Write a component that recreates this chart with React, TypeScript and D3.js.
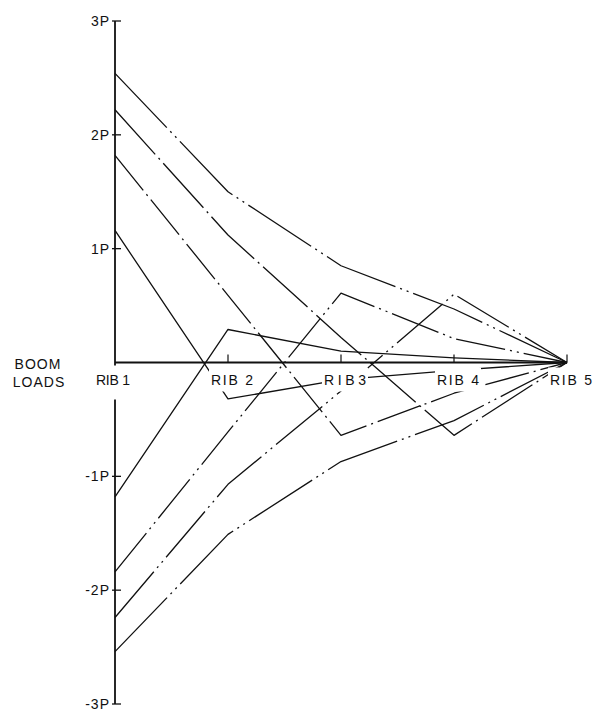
import React from "react";
import * as d3 from "d3";

const ribs = ["RIB 1", "RIB 2", "RIB 3", "RIB 4", "RIB 5"];
const ribLabels = ["RIB 1", "RIB 2", "RIB3", "RIB 4", "RIB 5"];
const yTickValues = [3, 2, 1, -1, -2, -3];
const yTickLabels = ["3P", "2P", "1P", "-1P", "-2P", "-3P"];

// boom loads (in units of P) at ribs 1..5
const seriesA = [2.54, 1.5, 0.85, 0.47, 0];
const seriesA2 = [-2.54, -1.51, -0.87, -0.51, 0];
const seriesB = [2.22, 1.12, 0.22, -0.64, 0];
const seriesB2 = [-2.24, -1.07, -0.25, 0.6, 0];
const seriesC = [1.82, 0.59, -0.64, -0.27, 0];
const seriesC2 = [-1.84, -0.61, 0.61, 0.21, 0];
const seriesD = [1.16, -0.32, -0.15, -0.07, 0];
const seriesD2 = [-1.18, 0.29, 0.1, 0.04, 0];

const W = 595;
const H = 716;

export default function App() {
  const x = d3.scalePoint<string>().domain(ribs).range([115, 567]).padding(0);
  const y = d3.scaleLinear().domain([-3, 3]).range([704, 21]);

  const line = d3
    .line<number>()
    .x((_, i) => x(ribs[i]) as number)
    .y((d) => y(d));

  const lines = [
    { data: seriesA, dash: "75 5 2 5 2 5" },
    { data: seriesA2, dash: "75 5 2 5 2 5" },
    { data: seriesB, dash: "60 5 2 5" },
    { data: seriesB2, dash: "60 5 2 5 2 5" },
    { data: seriesC, dash: "45 5 2 5" },
    { data: seriesC2, dash: "50 5 2 5 2 5" },
    { data: seriesD, dash: "none" },
    { data: seriesD2, dash: "none" },
  ];

  const font = "'Liberation Sans', Arial, sans-serif";
  const x0 = x(ribs[0]) as number;
  const xEnd = x(ribs[ribs.length - 1]) as number;
  const yZero = y(0);

  return (
    <svg
      width={W}
      height={H}
      viewBox={`0 0 ${W} ${H}`}
      style={{ position: "absolute", left: 0, top: 0, background: "#fff" }}
    >
      <rect x={0} y={0} width={W} height={H} fill="#fff" />
      {/* data lines */}
      {lines.map((l, i) => (
        <path
          key={i}
          d={line(l.data) || ""}
          fill="none"
          stroke="#111"
          strokeWidth={1.3}
          strokeDasharray={l.dash}
          strokeLinejoin="round"
        />
      ))}
      {/* baseline */}
      <line x1={x0} x2={xEnd} y1={yZero} y2={yZero} stroke="#111" strokeWidth={1.8} />
      {/* rib ticks */}
      {ribs.slice(1).map((r) => (
        <line
          key={r}
          x1={x(r) as number}
          x2={x(r) as number}
          y1={yZero}
          y2={yZero - 8}
          stroke="#111"
          strokeWidth={1.2}
        />
      ))}
      {/* y axis */}
      <line x1={x0} x2={x0} y1={y(3)} y2={y(-3)} stroke="#111" strokeWidth={1.8} />
      {yTickValues.map((v, i) => (
        <g key={v}>
          <line x1={x0 - 3} x2={x0 + 6} y1={y(v)} y2={y(v)} stroke="#111" strokeWidth={1.3} />
          <text
            x={x0 - 5}
            y={y(v) + 5}
            textAnchor="end"
            fontFamily={font}
            fontSize={14}
            letterSpacing={1}
            fill="#111"
          >
            {yTickLabels[i]}
          </text>
        </g>
      ))}
      {/* rib labels with white backing */}
      {ribs.map((r, i) => {
        const first = i === 0;
        const cx = (x(r) as number) + (first ? -2 : 4);
        const len = first ? 34 : 42;
        return (
          <g key={r}>
            <rect
              x={cx - len / 2 - 2}
              y={first ? yZero + 3 : yZero + 5}
              width={len + 4}
              height={first ? 34 : 24}
              fill="#fff"
            />
            <text
              x={cx}
              y={yZero + 22}
              textAnchor="middle"
              fontFamily={font}
              fontSize={14}
              textLength={len}
              lengthAdjust="spacing"
              fill="#111"
            >
              {ribLabels[i]}
            </text>
          </g>
        );
      })}
      {/* title */}
      <text x={38} y={369} textAnchor="middle" fontFamily={font} fontSize={14} letterSpacing={1} fill="#111">
        BOOM
      </text>
      <text x={39} y={387} textAnchor="middle" fontFamily={font} fontSize={14} letterSpacing={1} fill="#111">
        LOADS
      </text>
    </svg>
  );
}
